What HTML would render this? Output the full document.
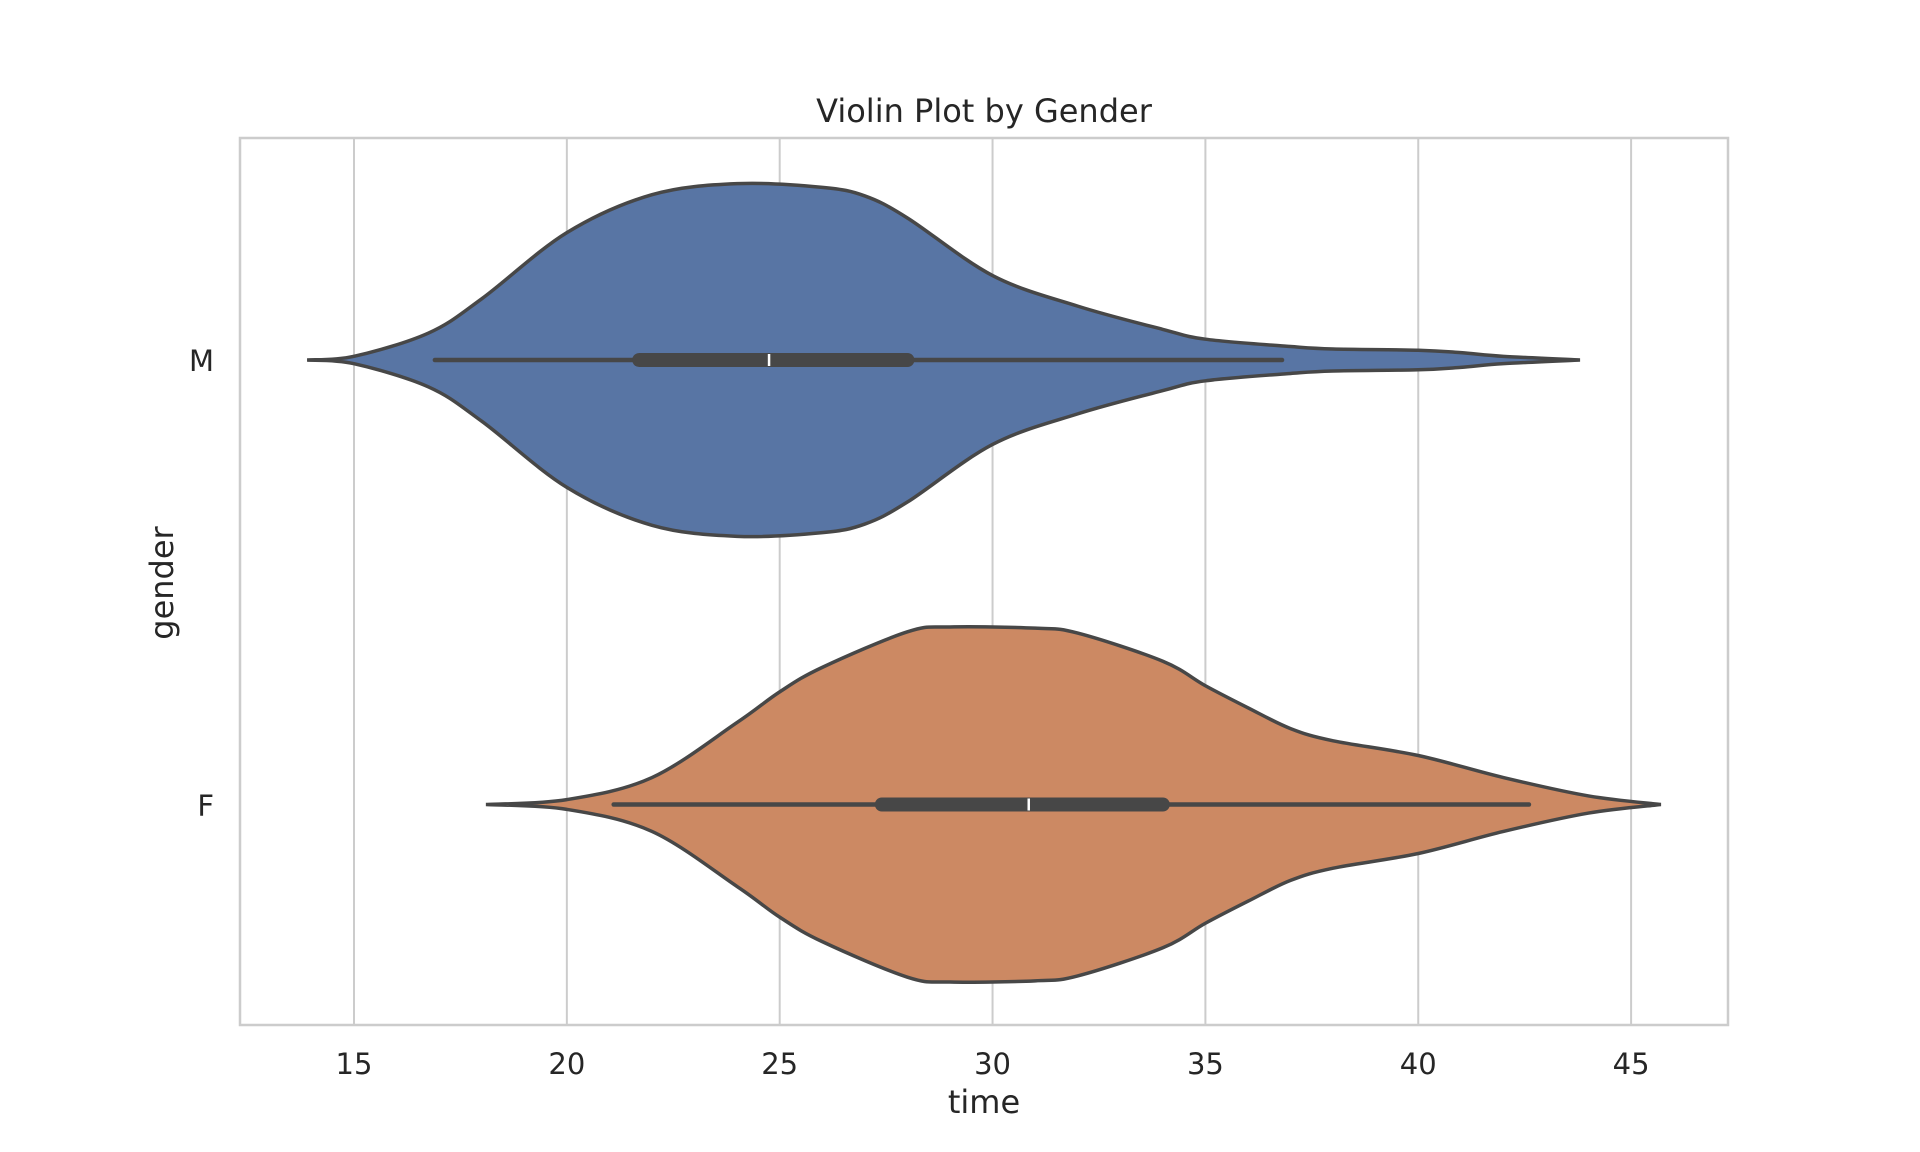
<!DOCTYPE html>
<html><head><meta charset="utf-8"><style>
html,body{margin:0;padding:0;background:#fff;}
svg{display:block;font-family:"DejaVu Sans","Liberation Sans",sans-serif;}
</style></head><body>
<svg id="s" width="1920" height="1152" viewBox="0 0 1920 1152" xmlns="http://www.w3.org/2000/svg">
<rect width="1920" height="1152" fill="#fff"/>
<g id="grid" stroke="#cccccc" stroke-width="2"></g>
<g id="vio"></g>
<rect x="240" y="138" width="1488" height="887" fill="none" stroke="#cccccc" stroke-width="2.5"/>
<text x="984" y="122" font-size="32" fill="#262626" text-anchor="middle">Violin Plot by Gender</text>
<g id="ticks" font-size="29" fill="#262626" text-anchor="middle"></g>
<text x="984" y="1113" font-size="32" fill="#262626" text-anchor="middle">time</text>
<text x="214" y="371" font-size="29" fill="#262626" text-anchor="end">M</text>
<text x="214" y="816" font-size="29" fill="#262626" text-anchor="end">F</text>
<text transform="translate(173,583) rotate(-90)" font-size="32" fill="#262626" text-anchor="middle">gender</text>
</svg>
<script>
var NS="http://www.w3.org/2000/svg";
function X(t){return 354+(t-15)*42.57;}
var g=document.getElementById('grid'),tk=document.getElementById('ticks');
for(var t=15;t<=45;t+=5){
 var l=document.createElementNS(NS,'line');l.setAttribute('x1',X(t));l.setAttribute('x2',X(t));l.setAttribute('y1',138);l.setAttribute('y2',1025);g.appendChild(l);
 var tx=document.createElementNS(NS,'text');tx.setAttribute('x',X(t));tx.setAttribute('y',1074);tx.textContent=t;tk.appendChild(tx);
}
var S=1.2245;
var M=[[13.9,0],[15,3],[16.75,22],[18,50],[20,104],[22,135],[24,144],[26,141],[27,134],[28,116],[30,69],[32,44],[34,25],[35,17],[37,11],[38,9],[40,8],[41,6],[42,3],[43.8,0]];
var F=[[18.1,0],[20,4],[22,22],[24,67],[25,92],[26,112],[28,141],[29,145],[31,144],[32,140],[34,117],[35,97],[36,79],[37,62],[38,52],[40,40],[42,22],[44,7],[45.7,0]];
function cr(pts){
 var d="M"+pts[0][0]+","+pts[0][1];
 for(var i=0;i<pts.length-1;i++){
  var p0=pts[i-1]||pts[i],p1=pts[i],p2=pts[i+1],p3=pts[i+2]||p2;
  var c1=[p1[0]+(p2[0]-p0[0])/6,p1[1]+(p2[1]-p0[1])/6],c2=[p2[0]-(p3[0]-p1[0])/6,p2[1]-(p3[1]-p1[1])/6];
  d+=" C"+c1+" "+c2+" "+p2;
 }
 return d;
}
function violin(data,cy,fill,w,box,med){
 var top=data.map(function(p){return [X(p[0]),cy-p[1]*S];});
 var bot=data.slice().reverse().map(function(p){return [X(p[0]),cy+p[1]*S];});
 var d=cr(top)+" L"+bot[0]+cr(bot).replace(/^M[^C]*/," ")+"Z";
 var v=document.getElementById('vio');
 var p=document.createElementNS(NS,'path');p.setAttribute('d',d);p.setAttribute('fill',fill);p.setAttribute('stroke','#474747');p.setAttribute('stroke-width','3.5');v.appendChild(p);
 function ln(x1,x2,sw,col){var l=document.createElementNS(NS,'line');l.setAttribute('x1',x1);l.setAttribute('x2',x2);l.setAttribute('y1',cy);l.setAttribute('y2',cy);l.setAttribute('stroke',col);l.setAttribute('stroke-width',sw);l.setAttribute('stroke-linecap','round');v.appendChild(l);}
 ln(X(w[0]),X(w[1]),4.5,'#474747');
 ln(X(box[0]),X(box[1]),14,'#474747');
 var m=document.createElementNS(NS,'line');m.setAttribute('x1',X(med));m.setAttribute('x2',X(med));m.setAttribute('y1',cy-6);m.setAttribute('y2',cy+6);m.setAttribute('stroke','#fff');m.setAttribute('stroke-width','2.5');v.appendChild(m);
}
violin(M,360,'#5875a4',[16.9,36.8],[21.7,28.0],24.75);
violin(F,804.5,'#cc8963',[21.1,42.6],[27.4,34.0],30.85);
</script>
</body></html>
